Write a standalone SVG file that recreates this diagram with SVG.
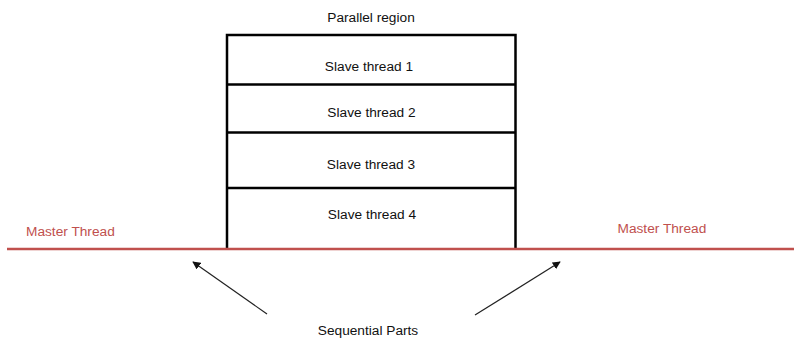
<svg xmlns="http://www.w3.org/2000/svg" width="794" height="340" viewBox="0 0 794 340">
<defs>
<style>
.t{font-family:"Liberation Sans",Arial,sans-serif;font-size:13.7px;fill:#111;text-anchor:middle}
.m{font-family:"Liberation Sans",Arial,sans-serif;font-size:13.7px;fill:#c0504d}
.box{fill:none;stroke:#000;stroke-width:2.5}
.arr{stroke:#222;stroke-width:1.2;fill:none;marker-end:url(#ah)}
</style>
<marker id="ah" viewBox="0 0 10 10" refX="9" refY="5" markerWidth="8" markerHeight="8" markerUnits="userSpaceOnUse" orient="auto">
<path d="M0,0 L10,5 L0,10 z" fill="#111"/>
</marker>
</defs>
<rect width="794" height="340" fill="#fff"/>
<g id="parallel-region">
<text class="t" x="371" y="22">Parallel region</text>
<path class="box" d="M227,249 V35 H515.5 V249"/>
</g>
<g id="slave1">
<text class="t" x="369" y="71">Slave thread 1</text>
</g>
<g id="slave2">
<line class="box" x1="227" y1="84.5" x2="515.5" y2="84.5"/>
<text class="t" x="371.5" y="117">Slave thread 2</text>
</g>
<g id="slave3">
<line class="box" x1="227" y1="132.5" x2="515.5" y2="132.5"/>
<text class="t" x="371" y="169">Slave thread 3</text>
</g>
<g id="slave4">
<line class="box" x1="227" y1="188" x2="515.5" y2="188"/>
<text class="t" x="372" y="219">Slave thread 4</text>
</g>
<g id="master-thread">
<line x1="7" y1="249" x2="794" y2="249" stroke="#c0504d" stroke-width="2.5"/>
<text class="m" x="26" y="236">Master Thread</text>
<text class="m" x="617.5" y="233">Master Thread</text>
</g>
<g id="sequential-parts">
<text class="t" x="368" y="335">Sequential Parts</text>
</g>
<g id="connectors">
<line class="arr" x1="267" y1="314" x2="193" y2="262"/>
<line class="arr" x1="475" y1="315" x2="560" y2="262"/>
</g>
</svg>
